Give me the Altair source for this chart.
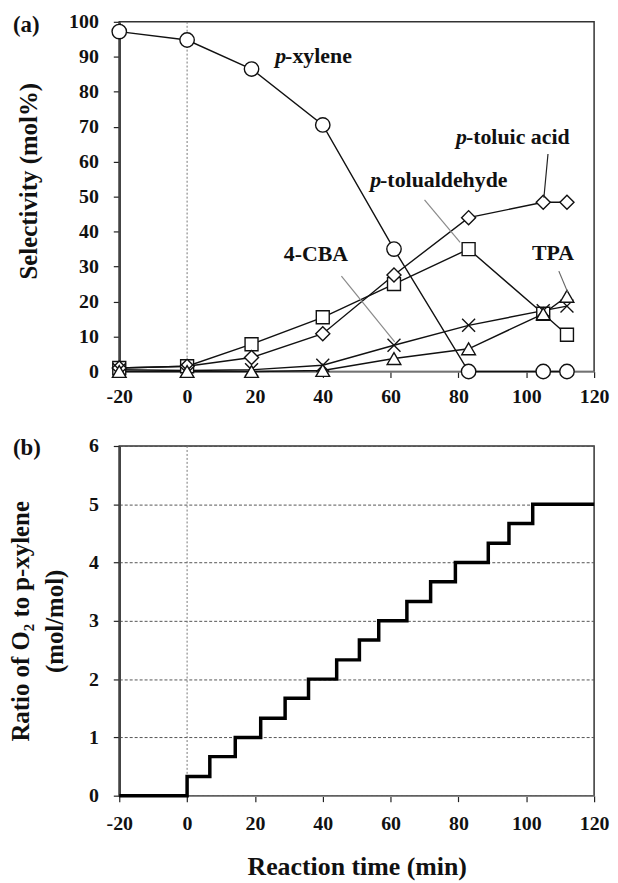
import altair as alt
import pandas as pd

# ---------------- data ----------------
time_a = [-20, 0, 19, 40, 61, 83, 105, 112]
p_xylene = [97.2, 94.8, 86.5, 70.5, 35.0, 0.0, 0.0, 0.0]
p_tolualdehyde = [1.0, 1.5, 7.8, 15.5, 25.0, 35.0, 16.5, 10.5]
p_toluic_acid = [1.0, 1.5, 4.0, 10.8, 27.6, 44.0, 48.4, 48.4]
cba = [0.5, 0.3, 0.5, 1.8, 7.5, 13.2, 17.4, 18.7]
tpa = [0.0, 0.0, 0.0, 0.3, 3.7, 6.5, 16.5, 21.5]

step_time = [-20, 0, 6.7, 14.2, 21.7, 28.9, 35.8, 44.1, 50.8, 56.5, 64.8,
             71.8, 79.1, 88.8, 94.9, 101.9, 120]
step_ratio = [0, 0.33, 0.67, 1.0, 1.33, 1.67, 2.0, 2.33, 2.67, 3.0, 3.33,
              3.67, 4.0, 4.33, 4.67, 5.0, 5.0]

x_ticks = [-20, 0, 20, 40, 60, 80, 100, 120]
y_ticks_a = [0, 10, 20, 30, 40, 50, 60, 70, 80, 90, 100]
y_ticks_b = [0, 1, 2, 3, 4, 5, 6]

# annotation labels (italic "p" + bold rest)
lab_italic = ["p", "p", "p"]
lab_rest = ["-xylene", "-toluic acid", "-tolualdehyde"]
lab_x = [28.9, 82.2, 56.9]
lab_y = [90.3, 67.0, 54.8]
plain_text = ["4-CBA", "TPA"]
plain_x = [38.0, 107.9]
plain_y = [33.5, 33.8]

# leader lines
seg_x1 = [106.4, 70.0, 45.5, 109.6]
seg_y1 = [62.2, 49.1, 27.3, 28.7]
seg_x2 = [105.2, 80.5, 61.2, 112.2]
seg_y2 = [49.7, 36.9, 8.5, 22.7]
seg_color = ["#222222", "#8a8a8a", "#8a8a8a", "#666666"]

series_names = ["p-xylene", "p-tolualdehyde", "p-toluic acid", "4-CBA", "TPA"]
series_vals = [p_xylene, p_tolualdehyde, p_toluic_acid, cba, tpa]
series_shape = ["circle", "square", "diamond", "M-1,-1L1,1M-1,1L1,-1", "triangle-up"]
series_size = [210, 170, 200, 170, 190]

FONT = "Liberation Serif"
W, H = 478, 352
LBL = "replace(datum.label, '\u2212', '-')"

# ---------------- panel (a) ----------------
rows = []
for name, vals in zip(series_names, series_vals):
    for t, v in zip(time_a, vals):
        rows.append({"series": name, "t": t, "v": v})
df_a = pd.DataFrame(rows)

xs = alt.Scale(domain=[-20, 120], nice=False)
ys_a = alt.Scale(domain=[0, 100], nice=False)

x_axis_a = alt.Axis(values=x_ticks, title=None, grid=False, labelPadding=9,
                    domainWidth=1.5, labelFlush=False, labelOverlap=False,
                    labelExpr=LBL)
y_axis_a = alt.Axis(values=y_ticks_a, title="Selectivity (mol%)", grid=False,
                    domainWidth=2.5, domainColor="#444", labelPadding=15,
                    titlePadding=27, labelOverlap=False, labelFlush=False,
                    titleY=160)

XA = alt.X("t:Q", scale=xs, axis=x_axis_a)
YA = alt.Y("v:Q", scale=ys_a, axis=y_axis_a)

zero_rule_a = alt.Chart(pd.DataFrame({"t": [0]})).mark_rule(
    strokeDash=[2, 2], color="#777", strokeWidth=1
).encode(x=XA)

lines_a = alt.Chart(df_a).mark_line(color="#111", strokeWidth=1.4).encode(
    x=XA, y=YA, detail="series:N",
)

point_layers = []
for name, shp, sz in zip(series_names, series_shape, series_size):
    sub = df_a[df_a.series == name]
    if shp.startswith("M"):
        pt = alt.Chart(sub).mark_point(
            shape=shp, size=sz, filled=False, stroke="#111", strokeWidth=1.4,
            opacity=1)
    else:
        pt = alt.Chart(sub).mark_point(
            shape=shp, size=sz, filled=True, fill="white", stroke="#111",
            strokeWidth=1.4, opacity=1)
    point_layers.append(pt.encode(x=XA, y=YA))

df_seg = pd.DataFrame({"x1": seg_x1, "y1": seg_y1, "x2": seg_x2, "y2": seg_y2,
                       "c": seg_color})
leaders = alt.Chart(df_seg).mark_rule(strokeWidth=1.2).encode(
    x=alt.X("x1:Q", scale=xs, axis=x_axis_a),
    y=alt.Y("y1:Q", scale=ys_a, axis=y_axis_a),
    x2="x2:Q", y2="y2:Q", color=alt.Color("c:N", scale=None),
)

df_lab = pd.DataFrame({"x": lab_x, "y": lab_y, "i": lab_italic, "r": lab_rest})
XL = alt.X("x:Q", scale=xs, axis=x_axis_a)
YL = alt.Y("y:Q", scale=ys_a, axis=y_axis_a)
lab_i = alt.Chart(df_lab).mark_text(
    font=FONT, fontSize=22, fontWeight="bold", fontStyle="italic",
    align="right", baseline="middle", color="#111", dx=1
).encode(x=XL, y=YL, text="i:N")
lab_r = alt.Chart(df_lab).mark_text(
    font=FONT, fontSize=22, fontWeight="bold", align="left",
    baseline="middle", color="#111"
).encode(x=XL, y=YL, text="r:N")

df_plain = pd.DataFrame({"x": plain_x, "y": plain_y, "s": plain_text})
lab_p = alt.Chart(df_plain).mark_text(
    font=FONT, fontSize=22, fontWeight="bold", align="center",
    baseline="middle", color="#111"
).encode(x=XL, y=YL, text="s:N")

tag_a = alt.Chart(pd.DataFrame({"s": ["(a)"]})).mark_text(
    font=FONT, fontSize=23, fontWeight="bold", align="left",
    baseline="middle", color="#111"
).encode(x=alt.value(-107), y=alt.value(3), text="s:N")

panel_a = alt.layer(
    zero_rule_a, lines_a, *point_layers, leaders, lab_i, lab_r, lab_p, tag_a
).properties(width=W, height=H)

# ---------------- panel (b) ----------------
df_b = pd.DataFrame({"t": step_time, "r": step_ratio})
ys_b = alt.Scale(domain=[0, 6], nice=False)

x_axis_b = alt.Axis(values=x_ticks, title="Reaction time (min)", grid=False,
                    labelPadding=12, titlePadding=20, domainWidth=1.5,
                    labelFlush=False, labelOverlap=False, labelExpr=LBL,
                    titleFontSize=26)
y_axis_b = alt.Axis(values=y_ticks_b,
                    title=["Ratio of O\u2082 to p-xylene", "(mol/mol)"],
                    grid=True, gridDash=[3, 2], gridColor="#555", gridWidth=1,
                    domainWidth=2.5, domainColor="#444", labelPadding=15,
                    titlePadding=21, titleLineHeight=34, labelOverlap=False,
                    labelFlush=False)

XB = alt.X("t:Q", scale=xs, axis=x_axis_b)

zero_rule_b = alt.Chart(pd.DataFrame({"t": [0]})).mark_rule(
    strokeDash=[2, 2], color="#777", strokeWidth=1
).encode(x=XB)

step_line = alt.Chart(df_b).mark_line(
    interpolate="step-after", color="#000", strokeWidth=3.5
).encode(
    x=XB,
    y=alt.Y("r:Q", scale=ys_b, axis=y_axis_b),
)

tag_b = alt.Chart(pd.DataFrame({"s": ["(b)"]})).mark_text(
    font=FONT, fontSize=23, fontWeight="bold", align="left",
    baseline="middle", color="#111"
).encode(x=alt.value(-107), y=alt.value(2), text="s:N")

panel_b = alt.layer(zero_rule_b, step_line, tag_b).properties(width=W, height=H)

chart = alt.vconcat(panel_a, panel_b, spacing=28).properties(
    padding={"left": 0, "top": 0, "right": 0, "bottom": 0},
    background="white",
).configure_view(
    stroke="#333", strokeWidth=1.5
).configure_axis(
    labelFont=FONT, labelFontWeight="bold", labelFontSize=20, labelColor="#111",
    titleFont=FONT, titleFontWeight="bold", titleFontSize=25, titleColor="#111",
    tickColor="#222", tickSize=6, tickWidth=1.2,
)

chart.save("out.html", embed_options={"renderer": "svg", "actions": False})
